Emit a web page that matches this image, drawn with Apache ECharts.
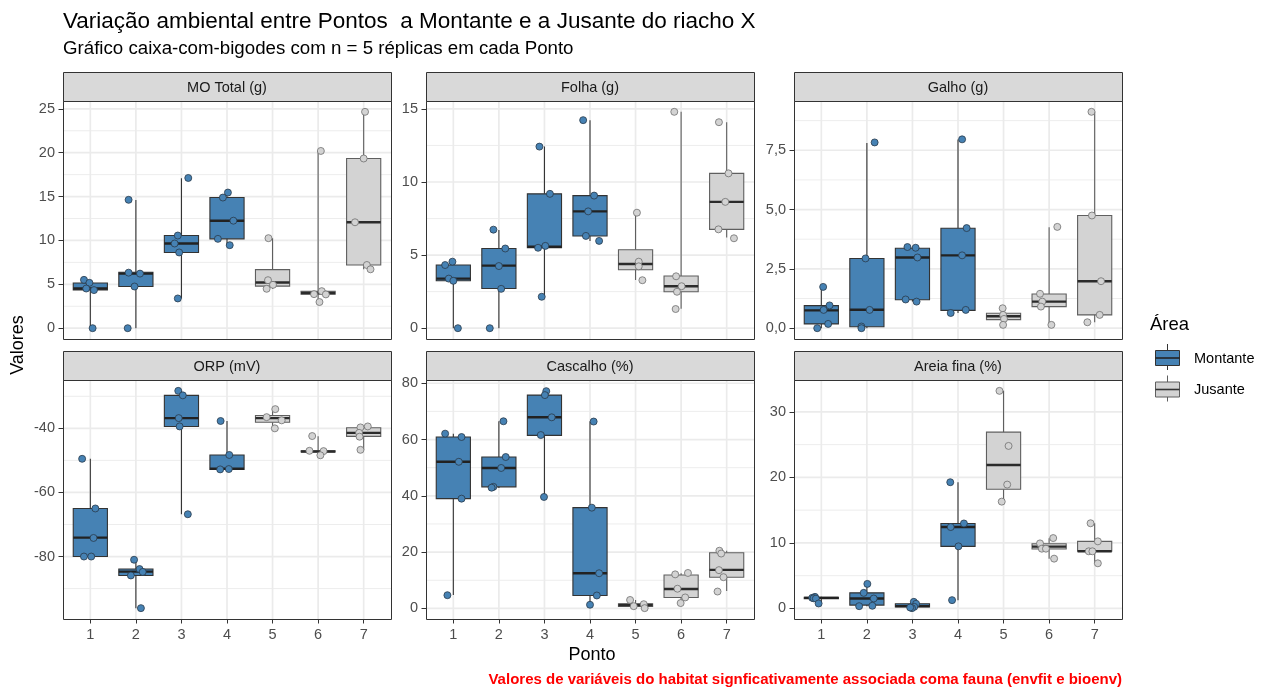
<!DOCTYPE html>
<html>
<head>
<meta charset="utf-8">
<script src="https://cdn.jsdelivr.net/npm/echarts@6/dist/echarts.min.js"></script>
<style>
html,body{margin:0;padding:0;background:#fff;}
#chart{width:1266px;height:691px;}
</style>
</head>
<body>
<div id="chart"></div>
<script>
// ---------------- DATA ----------------
const pontos = [1, 2, 3, 4, 5, 6, 7];
const areaNames = ['Montante', 'Jusante'];
// 0 = Montante, 1 = Jusante, per Ponto
const areaOfPonto = [0, 0, 0, 0, 1, 1, 1];

// box stats per Ponto: [min, Q1, median, Q3, max]
const moTotalBox = [[0, 4.37, 4.52, 5.15, 5.5], [0, 4.75, 6.22, 6.38, 14.6], [3.39, 8.63, 9.65, 10.56, 17.1], [9.46, 10.18, 12.25, 14.89, 15.46], [4.49, 4.79, 5.2, 6.67, 10.26], [2.98, 3.88, 4.0, 4.19, 20.2], [6.71, 7.2, 12.07, 19.34, 24.66]];
// jittered points: [Ponto, horizontal jitter, value]
const moTotalPts = [[1, -0.14, 5.51], [1, -0.02, 5.17], [1, -0.09, 4.52], [1, 0.08, 4.34], [1, 0.05, 0],
  [2, -0.16, 14.63], [2, -0.16, 6.33], [2, 0.09, 6.22], [2, -0.03, 4.75], [2, -0.18, 0],
  [3, 0.15, 17.12], [3, -0.08, 10.56], [3, -0.15, 9.65], [3, -0.05, 8.63], [3, -0.08, 3.39],
  [4, 0.02, 15.46], [4, -0.09, 14.89], [4, 0.14, 12.25], [4, -0.2, 10.18], [4, 0.06, 9.46],
  [5, -0.09, 10.26], [5, -0.1, 5.47], [5, 0.01, 4.94], [5, -0.13, 4.49],
  [6, 0.06, 20.2], [6, 0.08, 4.22], [6, -0.09, 3.88], [6, 0.17, 3.85], [6, 0.03, 2.98],
  [7, 0.03, 24.66], [7, 0, 19.34], [7, -0.19, 12.07], [7, 0.07, 7.2], [7, 0.15, 6.71]];

const folhaBox = [[0, 3.24, 3.39, 4.32, 4.55], [0, 2.71, 4.28, 5.45, 6.72], [2.15, 5.5, 5.57, 9.19, 12.42], [5.97, 6.31, 7.99, 9.07, 14.23], [3.3, 4.0, 4.39, 5.36, 7.87], [1.33, 2.49, 2.87, 3.57, 14.8], [6.2, 6.76, 8.64, 10.59, 14.09]];
const folhaPts = [[1, -0.18, 4.32], [1, -0.02, 4.55], [1, -0.1, 3.39], [1, 0, 3.24], [1, 0.1, 0],
  [2, -0.12, 6.74], [2, 0.14, 5.45], [2, 0, 4.25], [2, 0.05, 2.69], [2, -0.2, 0],
  [3, -0.11, 12.42], [3, 0.12, 9.19], [3, 0.02, 5.63], [3, -0.14, 5.5], [3, -0.06, 2.15],
  [4, -0.15, 14.23], [4, 0.09, 9.07], [4, -0.04, 7.99], [4, -0.09, 6.31], [4, 0.2, 5.97],
  [5, 0.03, 7.9], [5, 0.07, 4.55], [5, 0.07, 4.23], [5, 0.15, 3.28],
  [6, -0.15, 14.8], [6, -0.11, 3.55], [6, 0.01, 2.87], [6, -0.09, 2.49], [6, -0.12, 1.31],
  [7, -0.17, 14.09], [7, 0.04, 10.59], [7, -0.03, 8.64], [7, -0.18, 6.76], [7, 0.16, 6.15]];

const galhoBox = [[0, 0.18, 0.75, 0.95, 1.74], [0, 0.06, 0.78, 2.94, 7.81], [1.12, 1.2, 2.98, 3.37, 3.42], [0.64, 0.75, 3.07, 4.21, 7.95], [0.14, 0.36, 0.5, 0.63, 0.84], [0.14, 0.91, 1.12, 1.44, 4.25], [0.25, 0.56, 1.98, 4.75, 9.12]];
const galhoPts = [[1, 0.04, 1.74], [1, 0.18, 0.96], [1, 0.05, 0.77], [1, 0.15, 0.18], [1, -0.09, 0],
  [2, 0.17, 7.83], [2, -0.03, 2.94], [2, 0.06, 0.77], [2, -0.12, 0.07], [2, -0.12, 0],
  [3, -0.11, 3.42], [3, 0.07, 3.39], [3, 0.11, 2.98], [3, -0.15, 1.21], [3, 0.09, 1.12],
  [4, 0.09, 7.96], [4, 0.19, 4.22], [4, 0.09, 3.07], [4, 0.17, 0.77], [4, -0.16, 0.64],
  [5, -0.02, 0.84], [5, -0.01, 0.56], [5, 0.01, 0.39], [5, -0.01, 0.14],
  [6, 0.18, 4.27], [6, -0.2, 1.45], [6, -0.15, 1.12], [6, -0.18, 0.91], [6, 0.05, 0.14],
  [7, -0.07, 9.12], [7, -0.06, 4.75], [7, 0.14, 1.98], [7, 0.11, 0.56], [7, -0.16, 0.25]];

const orpBox = [[-80, -80, -74.1, -65.0, -49.5], [-96.1, -85.9, -84.7, -83.9, -81.0], [-66.8, -39.4, -36.8, -29.7, -28.3], [-52.8, -52.8, -52.6, -48.3, -37.7], [-40.0, -38.1, -36.8, -36.0, -34.0], [-48.4, -47.4, -47.2, -47.0, -42.5], [-46.7, -42.5, -41.4, -39.8, -39.4]];
const orpPts = [[1, -0.18, -49.5], [1, 0.11, -65.0], [1, 0.07, -74.2], [1, -0.14, -80], [1, 0.02, -80],
  [2, -0.04, -81.0], [2, 0.08, -83.9], [2, 0.15, -84.8], [2, -0.11, -85.9], [2, 0.11, -96.1],
  [3, -0.07, -28.3], [3, 0.03, -29.7], [3, -0.06, -36.8], [3, -0.04, -39.4], [3, 0.14, -66.8],
  [4, -0.14, -37.7], [4, 0.05, -48.3], [4, -0.15, -52.8], [4, 0.04, -52.7],
  [5, 0.06, -34.0], [5, -0.13, -36.5], [5, 0.2, -37.5], [5, 0.05, -40.0],
  [6, -0.13, -42.4], [6, -0.19, -47.0], [6, 0.12, -47.1], [6, 0.05, -48.4],
  [7, 0.09, -39.4], [7, -0.07, -39.7], [7, -0.1, -41.4], [7, -0.09, -42.6], [7, -0.07, -46.7]];

const cascalhoBox = [[4.8, 39.0, 52.1, 60.9, 62.1], [42.8, 43.2, 49.9, 53.8, 66.5], [39.6, 61.5, 67.9, 75.8, 77.3], [1.3, 4.6, 12.5, 35.8, 66.4], [0.1, 0.7, 1.2, 1.6, 3.0], [2.0, 3.9, 6.9, 11.9, 12.5], [6.2, 11.1, 13.7, 19.8, 20.5]];
const cascalhoPts = [[1, -0.18, 62.1], [1, 0.18, 60.9], [1, 0.12, 52.1], [1, 0.18, 39.0], [1, -0.13, 4.7],
  [2, 0.1, 66.5], [2, 0.15, 53.8], [2, 0.05, 49.9], [2, -0.12, 43.2], [2, -0.16, 42.9],
  [3, 0.04, 77.2], [3, 0.01, 75.8], [3, 0.16, 67.9], [3, -0.08, 61.6], [3, -0.01, 39.6],
  [4, 0.08, 66.4], [4, 0.04, 35.8], [4, 0.2, 12.5], [4, 0.15, 4.6], [4, 0, 1.3],
  [5, -0.12, 3.0], [5, -0.04, 0.8], [5, 0.18, 1.5], [5, 0.2, 0.1],
  [6, -0.13, 12.1], [6, 0.15, 12.6], [6, -0.08, 7.0], [6, 0.09, 3.9], [6, -0.01, 1.9],
  [7, -0.16, 20.5], [7, -0.12, 19.5], [7, -0.17, 13.6], [7, -0.07, 11.1], [7, -0.2, 6.0]];

const areiaBox = [[0.76, 1.5, 1.62, 1.72, 1.77], [0.35, 0.51, 1.52, 2.38, 3.75], [0.05, 0.25, 0.35, 0.71, 1.01], [1.27, 9.48, 12.42, 12.97, 19.26], [16.3, 18.2, 21.9, 26.9, 33.2], [7.6, 9.07, 9.43, 9.88, 10.7], [6.9, 8.72, 8.72, 10.24, 13.0]];
const areiaPts = [[1, -0.14, 1.77], [1, -0.2, 1.62], [1, -0.17, 1.55], [1, -0.12, 1.5], [1, -0.06, 0.76],
  [2, 0.01, 3.75], [2, -0.07, 2.38], [2, 0.15, 1.52], [2, -0.17, 0.35], [2, 0.12, 0.41],
  [3, 0.03, 1.01], [3, 0.08, 0.71], [3, 0.04, 0.25], [3, -0.01, 0.05], [3, -0.05, 0.15],
  [4, -0.17, 19.26], [4, 0.13, 12.97], [4, -0.16, 12.42], [4, 0.01, 9.48], [4, -0.13, 1.27],
  [5, -0.09, 33.2], [5, 0.11, 24.8], [5, 0.08, 18.9], [5, -0.04, 16.3],
  [6, -0.2, 9.93], [6, -0.16, 9.12], [6, -0.07, 9.12], [6, 0.09, 10.74], [6, 0.11, 7.6],
  [7, -0.09, 13.0], [7, 0.07, 10.24], [7, -0.13, 8.72], [7, -0.05, 8.72], [7, 0.07, 6.89]];

// tick values / labels per panel
const moTicks = [0, 5, 10, 15, 20, 25];
const moTickLabels = ['0', '5', '10', '15', '20', '25'];
const folhaTicks = [0, 5, 10, 15];
const folhaTickLabels = ['0', '5', '10', '15'];
const galhoTicks = [0, 2.5, 5, 7.5];
const galhoTickLabels = ['0,0', '2,5', '5,0', '7,5'];
const orpTicks = [-80, -60, -40];
const orpTickLabels = ['-80', '-60', '-40'];
const cascalhoTicks = [0, 20, 40, 60, 80];
const cascalhoTickLabels = ['0', '20', '40', '60', '80'];
const areiaTicks = [0, 10, 20, 30];
const areiaTickLabels = ['0', '10', '20', '30'];

const panelTitles = ['MO Total (g)', 'Folha (g)', 'Galho (g)', 'ORP (mV)', 'Cascalho (%)', 'Areia fina (%)'];

const titleText = 'Variação ambiental entre Pontos  a Montante e a Jusante do riacho X';
const subtitleText = 'Gráfico caixa-com-bigodes com n = 5 réplicas em cada Ponto';
const captionText = 'Valores de variáveis do habitat signficativamente associada coma fauna (envfit e bioenv)';
const xTitle = 'Ponto';
const yTitle = 'Valores';
const legendTitle = 'Área';

// ---------------- LAYOUT ----------------
const FONT = '"Liberation Sans", Arial, Helvetica, sans-serif';
const colLeft = [63, 426, 794];
const panelW = 328;
const rowTop = [101, 380];
const rowH = [238, 239];
const stripH = 29;
const fillCol = ['#4682B4', '#D3D3D3'];
const lineCol = ['#333333', '#5f5f5f'];
const ptLine = ['#2a3a4a', '#6e6e6e'];

const panels = [
  { box: moTotalBox, pts: moTotalPts, ticks: moTicks, labels: moTickLabels },
  { box: folhaBox, pts: folhaPts, ticks: folhaTicks, labels: folhaTickLabels },
  { box: galhoBox, pts: galhoPts, ticks: galhoTicks, labels: galhoTickLabels },
  { box: orpBox, pts: orpPts, ticks: orpTicks, labels: orpTickLabels },
  { box: cascalhoBox, pts: cascalhoPts, ticks: cascalhoTicks, labels: cascalhoTickLabels },
  { box: areiaBox, pts: areiaPts, ticks: areiaTicks, labels: areiaTickLabels }
];

// y range: data range expanded by 5% each side (as ggplot does)
function yRange(p) {
  let lo = Infinity, hi = -Infinity;
  p.box.forEach(b => { lo = Math.min(lo, b[0]); hi = Math.max(hi, b[4]); });
  p.pts.forEach(q => { lo = Math.min(lo, q[2]); hi = Math.max(hi, q[2]); });
  const e = (hi - lo) * 0.05;
  return [lo - e, hi + e];
}

const grids = [], xAxes = [], yAxes = [], series = [], graphics = [];

panels.forEach((p, i) => {
  const row = Math.floor(i / 3), col = i % 3;
  const left = colLeft[col], top = rowTop[row], h = rowH[row];
  grids.push({ left: left, top: top, width: panelW, height: h, containLabel: false });
  const bottomRow = row === 1;
  xAxes.push({
    type: 'value', gridIndex: i, min: 0.4, max: 7.6, position: 'bottom',
    axisLine: { show: false, onZero: false },
    splitLine: { show: false },
    axisTick: { show: bottomRow, customValues: pontos, length: 4.5, lineStyle: { color: '#333', width: 1 } },
    axisLabel: { show: bottomRow, customValues: pontos, margin: 8, color: '#4D4D4D', fontSize: 14.5, fontFamily: FONT, formatter: v => String(v) }
  });
  const yr = yRange(p);
  const ticks = p.ticks, labels = p.labels;
  yAxes.push({
    type: 'value', gridIndex: i, min: yr[0], max: yr[1], position: 'left',
    axisLine: { show: false, onZero: false },
    splitLine: { show: false },
    axisTick: { show: true, customValues: ticks, length: 4.5, lineStyle: { color: '#333', width: 1 } },
    axisLabel: { show: true, customValues: ticks, margin: 8, color: '#4D4D4D', fontSize: 14.5, fontFamily: FONT,
      formatter: v => { const k = ticks.findIndex(t => Math.abs(t - v) < 1e-9); return k >= 0 ? labels[k] : ''; } }
  });
  // gridlines: vertical at each Ponto, horizontal major at ticks, minor halfway
  const step = ticks[1] - ticks[0];
  const minor = [];
  for (let k = 0; k <= ticks.length; k++) {
    const m = (k < ticks.length ? ticks[k] : ticks[ticks.length - 1] + step) - step / 2;
    if (m > yr[0] && m < yr[1]) minor.push(m);
  }
  const gl = [];
  minor.forEach(v => gl.push([1, v, 0]));
  ticks.forEach(v => gl.push([1, v, 1]));
  pontos.forEach(v => gl.push([0, v, 1]));
  series.push({
    type: 'custom', xAxisIndex: i, yAxisIndex: i, silent: true, z: 1,
    data: gl,
    encode: { x: -1, y: -1 },
    renderItem: (params, api) => {
      const cs = params.coordSys;
      const kind = api.value(0), v = api.value(1), major = api.value(2);
      const style = { stroke: '#EBEBEB', lineWidth: major ? 1.7 : 0.9 };
      if (kind === 0) {
        const x = api.coord([v, yr[0]])[0];
        return { type: 'line', shape: { x1: x, y1: cs.y + 1, x2: x, y2: cs.y + cs.height }, style: style };
      }
      const y = api.coord([1, v])[1];
      return { type: 'line', shape: { x1: cs.x + 1, y1: y, x2: cs.x + cs.width, y2: y }, style: style };
    }
  });
  // boxes
  series.push({
    type: 'custom', xAxisIndex: i, yAxisIndex: i, silent: true, z: 2,
    data: p.box.map((b, k) => [pontos[k], b[0], b[1], b[2], b[3], b[4], areaOfPonto[k]]),
    encode: { x: 0, y: [1, 2, 3, 4, 5] },
    renderItem: (params, api) => {
      const c = api.value(0), mn = api.value(1), q1 = api.value(2), md = api.value(3), q3 = api.value(4), mx = api.value(5), a = api.value(6);
      const hw = 0.375;
      const tl = api.coord([c - hw, q3]), br = api.coord([c + hw, q1]);
      const pmn = api.coord([c, mn]), pmx = api.coord([c, mx]);
      const ml = api.coord([c - hw, md]), mr = api.coord([c + hw, md]);
      const stroke = lineCol[a];
      return {
        type: 'group', children: [
          { type: 'line', shape: { x1: pmx[0], y1: pmx[1], x2: pmx[0], y2: tl[1] }, style: { stroke: stroke, lineWidth: 1.1 } },
          { type: 'line', shape: { x1: pmn[0], y1: br[1], x2: pmn[0], y2: pmn[1] }, style: { stroke: stroke, lineWidth: 1.1 } },
          { type: 'rect', shape: { x: tl[0], y: tl[1], width: br[0] - tl[0], height: br[1] - tl[1] }, style: { fill: fillCol[a], stroke: stroke, lineWidth: 1.1 } },
          { type: 'line', shape: { x1: ml[0], y1: ml[1], x2: mr[0], y2: mr[1] }, style: { stroke: a === 0 ? '#222' : '#2b2b2b', lineWidth: 2.4 } }
        ]
      };
    }
  });
  // jittered points
  series.push({
    type: 'scatter', xAxisIndex: i, yAxisIndex: i, silent: true, z: 3,
    symbol: 'circle', symbolSize: 7,
    data: p.pts.map(q => {
      const a = areaOfPonto[q[0] - 1];
      return { value: [q[0] + q[1], q[2]], itemStyle: { color: fillCol[a], borderColor: ptLine[a], borderWidth: 0.8, opacity: 1 } };
    })
  });
  // strip + panel border
  const sy = top - stripH;
  graphics.push({ type: 'rect', z: 100, shape: { x: left + 0.5, y: sy + 0.5, width: panelW, height: stripH }, style: { fill: '#D9D9D9', stroke: '#333', lineWidth: 1 } });
  graphics.push({ type: 'text', z: 101, x: left + panelW / 2, y: sy + stripH / 2 + 1, style: { text: panelTitles[i], fill: '#1A1A1A', font: '14.5px ' + FONT, textAlign: 'center', textVerticalAlign: 'middle' } });
  graphics.push({ type: 'rect', z: 100, shape: { x: left + 0.5, y: top + 0.5, width: panelW, height: h }, style: { fill: 'none', stroke: '#333', lineWidth: 1 } });
});

// titles & axis titles
graphics.push({ type: 'text', x: 63, y: 22, style: { text: titleText, fill: '#000', font: '22.5px ' + FONT, textVerticalAlign: 'middle' } });
graphics.push({ type: 'text', x: 63, y: 49, style: { text: subtitleText, fill: '#000', font: '18.7px ' + FONT, textVerticalAlign: 'middle' } });
graphics.push({ type: 'text', x: 592, y: 655, style: { text: xTitle, fill: '#000', font: '18px ' + FONT, textAlign: 'center', textVerticalAlign: 'middle' } });
graphics.push({ type: 'text', x: 18, y: 345, rotation: Math.PI / 2, style: { text: yTitle, fill: '#000', font: '18px ' + FONT, textAlign: 'center', textVerticalAlign: 'middle' } });
graphics.push({ type: 'text', x: 1122, y: 680, style: { text: captionText, fill: '#FF0000', font: 'bold 15px ' + FONT, textAlign: 'right', textVerticalAlign: 'middle' } });

// legend
graphics.push({ type: 'text', x: 1150, y: 325, style: { text: legendTitle, fill: '#000', font: '18.5px ' + FONT, textVerticalAlign: 'middle' } });
const keyY = [350, 381.5];
areaNames.forEach((nm, a) => {
  const y0 = keyY[a];
  graphics.push({ type: 'line', shape: { x1: 1167.5, y1: y0 - 6, x2: 1167.5, y2: y0 + 20 }, style: { stroke: lineCol[a], lineWidth: 1 } });
  graphics.push({ type: 'rect', shape: { x: 1155.5, y: y0 + 0.5, width: 24, height: 15 }, style: { fill: fillCol[a], stroke: lineCol[a], lineWidth: 1 } });
  graphics.push({ type: 'line', shape: { x1: 1155.5, y1: y0 + 8, x2: 1179.5, y2: y0 + 8 }, style: { stroke: a === 0 ? '#222' : '#333', lineWidth: 1.6 } });
  graphics.push({ type: 'text', x: 1194, y: y0 + 8.5, style: { text: nm, fill: '#000', font: '14.5px ' + FONT, textVerticalAlign: 'middle' } });
});

const chart = echarts.init(document.getElementById('chart'), null, { renderer: 'canvas' });
chart.setOption({
  animation: false,
  backgroundColor: '#fff',
  grid: grids,
  xAxis: xAxes,
  yAxis: yAxes,
  series: series,
  graphic: graphics
});
</script>
</body>
</html>
